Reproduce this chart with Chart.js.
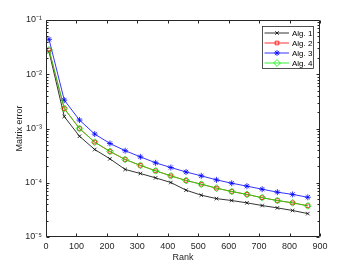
<!DOCTYPE html>
<html>
<head>
<meta charset="utf-8">
<script src="https://cdn.jsdelivr.net/npm/chart.js@4/dist/chart.umd.min.js"></script>
<style>
  html, body { margin: 0; padding: 0; background: #fff; }
  #wrap { width: 354px; height: 266px; }
</style>
</head>
<body>
<div id="wrap"><canvas id="c" width="354" height="266"></canvas></div>
<script>
// ranks on the x axis
var ranks = [10, 60, 110, 160, 210, 260, 310, 360, 410, 460, 510, 560, 610, 660, 710, 760, 810, 860];

// matrix error per algorithm
var alg1 = [0.026, 0.00166, 7.2e-4, 4.1e-4, 2.76e-4, 1.76e-4, 1.48e-4, 1.23e-4, 1.01e-4, 7.3e-5, 5.9e-5, 5.1e-5, 4.7e-5, 4.26e-5, 3.8e-5, 3.44e-5, 3.08e-5, 2.7e-5];
var alg2 = [0.028, 0.00233, 1.0e-3, 5.6e-4, 3.77e-4, 2.68e-4, 2.09e-4, 1.66e-4, 1.34e-4, 1.10e-4, 9.4e-5, 7.95e-5, 6.9e-5, 6.1e-5, 5.3e-5, 4.7e-5, 4.26e-5, 3.76e-5];
var alg3 = [0.044, 0.00334, 1.43e-3, 7.9e-4, 5.3e-4, 3.9e-4, 3.0e-4, 2.33e-4, 1.91e-4, 1.58e-4, 1.34e-4, 1.13e-4, 9.8e-5, 8.65e-5, 7.6e-5, 6.7e-5, 6.1e-5, 5.4e-5];
var alg4 = [0.028, 0.00234, 1.0e-3, 5.6e-4, 3.78e-4, 2.69e-4, 2.09e-4, 1.66e-4, 1.34e-4, 1.10e-4, 9.4e-5, 7.95e-5, 6.9e-5, 6.1e-5, 5.3e-5, 4.7e-5, 4.26e-5, 3.75e-5];

var xTicks = [0, 100, 200, 300, 400, 500, 600, 700, 800, 900];
var yTicks = [1e-5, 1e-4, 1e-3, 1e-2, 1e-1];
var yTickLabels = ['10\u207B\u2075', '10\u207B\u2074', '10\u207B\u00B3', '10\u207B\u00B2', '10\u207B\u00B9'];

var axisColor = '#262626';
var fontFam = '"Liberation Sans", Arial, Helvetica, sans-serif';

function pts(vals) {
  return ranks.map(function (r, i) { return { x: r, y: vals[i] }; });
}

function ds(label, vals, color, style, radius, order) {
  return {
    label: label,
    data: pts(vals),
    order: order,
    borderColor: color,
    backgroundColor: 'rgba(0,0,0,0)',
    borderWidth: 0.8,
    pointStyle: style,
    pointRadius: radius,
    pointBorderColor: color,
    pointBackgroundColor: 'rgba(0,0,0,0)',
    pointBorderWidth: 0.8,
    tension: 0
  };
}

// box, inward ticks and the legend, MATLAB style
var matlabAxes = {
  id: 'matlabAxes',
  afterDraw: function (chart) {
    var ctx = chart.ctx;
    var a = chart.chartArea;
    var xs = chart.scales.x, ys = chart.scales.y;
    var L = Math.round(a.left) + 0.5, R = Math.round(a.right) - 0.5;
    var T = Math.round(a.top) + 0.5, B = Math.round(a.bottom) - 0.5;
    ctx.save();
    ctx.strokeStyle = axisColor;
    ctx.lineWidth = 1;
    ctx.beginPath();
    ctx.rect(L, T, R - L, B - T);
    // x ticks, bottom and top
    xTicks.forEach(function (v) {
      var px = Math.round(xs.getPixelForValue(v)) + 0.5;
      ctx.moveTo(px, B); ctx.lineTo(px, B - 3);
      ctx.moveTo(px, T); ctx.lineTo(px, T + 3);
    });
    // y major + minor ticks, left and right
    for (var e = -5; e <= -1; e++) {
      for (var m = 1; m <= 9; m++) {
        var v = m * Math.pow(10, e);
        if (v > 0.1 + 1e-12) break;
        var py = Math.round(ys.getPixelForValue(v)) + 0.5;
        var len = m === 1 ? 3 : 2;
        ctx.moveTo(L, py); ctx.lineTo(L + len, py);
        ctx.moveTo(R, py); ctx.lineTo(R - len, py);
      }
    }
    ctx.stroke();

    // legend
    var bx = 262.5, by = 26.5, bw = 51, bh = 42;
    ctx.fillStyle = '#fff';
    ctx.fillRect(bx, by, bw, bh);
    ctx.strokeStyle = axisColor;
    ctx.lineWidth = 0.8;
    ctx.strokeRect(bx, by, bw, bh);
    ctx.font = '8px ' + fontFam;
    ctx.textBaseline = 'middle';
    ctx.textAlign = 'left';
    chart.data.datasets.forEach(function (d, i) {
      var y = 33 + i * 10;
      ctx.strokeStyle = d.borderColor;
      ctx.lineWidth = d.borderWidth;
      ctx.beginPath();
      ctx.moveTo(264.5, y); ctx.lineTo(289, y);
      ctx.stroke();
      if (Chart.helpers && Chart.helpers.drawPoint) {
        ctx.fillStyle = 'rgba(0,0,0,0)';
        Chart.helpers.drawPoint(ctx, { pointStyle: d.pointStyle, radius: d.pointRadius, borderWidth: d.pointBorderWidth, rotation: 0 }, 277, y);
      }
      ctx.fillStyle = '#000';
      ctx.fillText(d.label, 292, y + 0.5);
    });
    ctx.restore();
  }
};

Chart.defaults.font.family = fontFam;
Chart.defaults.color = axisColor;

new Chart(document.getElementById('c').getContext('2d'), {
  type: 'line',
  data: {
    datasets: [
      ds('Alg. 1', alg1, '#000000', 'crossRot', 2.5, 4),
      ds('Alg. 2', alg2, '#ff0000', 'rect', 2.6, 3),
      ds('Alg. 3', alg3, '#0000ff', 'star', 3, 2),
      ds('Alg. 4', alg4, '#00ee00', 'rectRot', 3.4, 1)
    ]
  },
  options: {
    responsive: false,
    animation: false,
    layout: { padding: { left: 0, right: 34, top: 20, bottom: 0 } },
    plugins: { legend: { display: false }, tooltip: { enabled: false } },
    scales: {
      x: {
        type: 'linear',
        min: 0, max: 900,
        grid: { display: false, drawTicks: false },
        border: { display: false },
        afterBuildTicks: function (s) { s.ticks = xTicks.map(function (v) { return { value: v }; }); },
        afterFit: function (s) { s.height = 29; },
        ticks: { font: { size: 9 }, color: axisColor, padding: 4, maxRotation: 0 },
        title: { display: true, text: 'Rank', font: { size: 9 }, color: axisColor, padding: { top: 0, bottom: 3 } }
      },
      y: {
        type: 'logarithmic',
        min: 1e-5, max: 1e-1,
        grid: { display: false, drawTicks: false },
        border: { display: false },
        afterBuildTicks: function (s) { s.ticks = yTicks.map(function (v) { return { value: v }; }); },
        afterFit: function (s) { s.width = 46; },
        ticks: {
          font: { size: 9 }, color: axisColor, padding: 4,
          callback: function (v) {
            var i = yTicks.indexOf(v);
            return i >= 0 ? yTickLabels[i] : '';
          }
        },
        title: { display: true, text: 'Matrix error', font: { size: 9 }, color: axisColor, padding: { top: 14, bottom: 0 } }
      }
    }
  },
  plugins: [matlabAxes]
});
</script>
</body>
</html>
